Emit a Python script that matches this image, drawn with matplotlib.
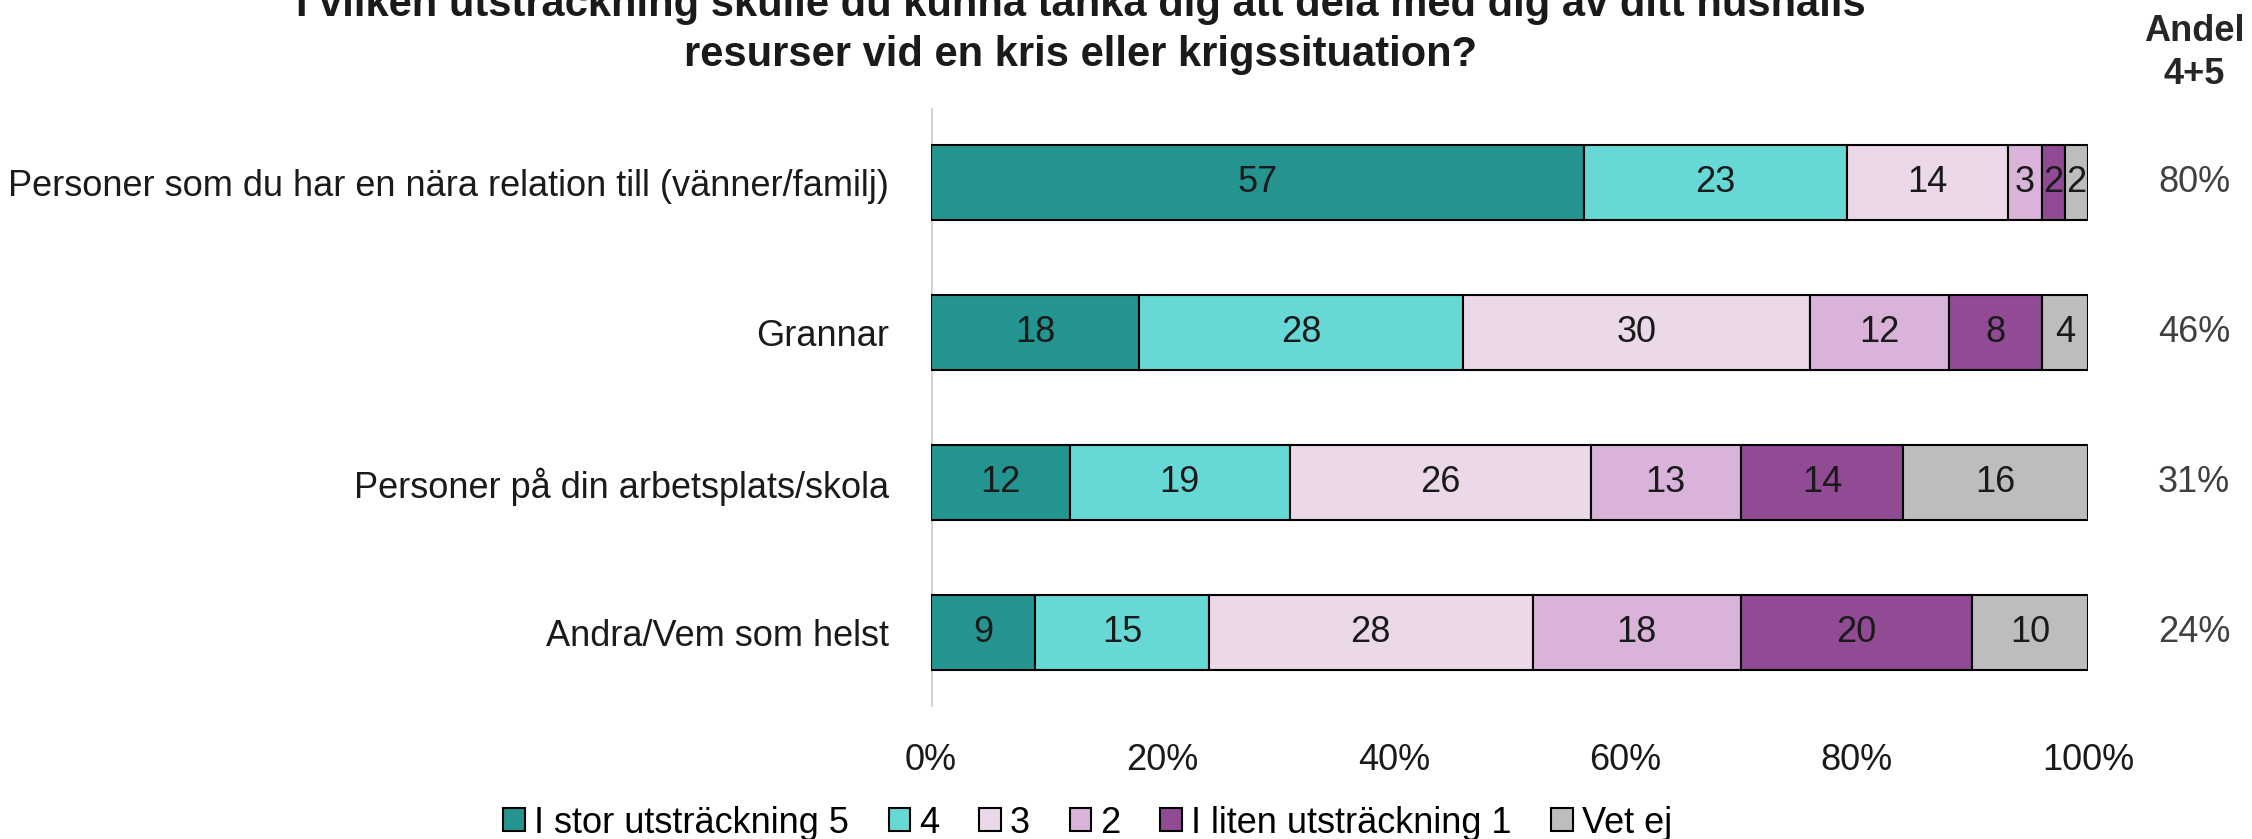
import numpy as np
import matplotlib.pyplot as plt
from matplotlib.patches import Patch

# -------- DATA --------
categories = [
    "Personer som du har en nära relation till (vänner/familj)",
    "Grannar",
    "Personer på din arbetsplats/skola",
    "Andra/Vem som helst",
]
series_names = ["I stor utsträckning 5", "4", "3", "2", "I liten utsträckning 1", "Vet ej"]
stor_5 = [57, 18, 12, 9]
val_4 = [23, 28, 19, 15]
val_3 = [14, 30, 26, 28]
val_2 = [3, 12, 13, 18]
liten_1 = [2, 8, 14, 20]
vet_ej = [2, 4, 16, 10]
xticks = [0, 20, 40, 60, 80, 100]

colors = ["#249490", "#66D9D6", "#EBD9EA", "#D9B3D9", "#914B94", "#BDBDBD"]

# -------- STYLE --------
plt.rcParams['font.family'] = ['Liberation Sans', 'DejaVu Sans']
FS = 26

series = np.array([stor_5, val_4, val_3, val_2, liten_1, vet_ej], dtype=float)
totals = series.sum(axis=0)
shares = series / totals * 100
andel = series[0] + series[1]

fig = plt.figure(figsize=(22.52, 8.39), dpi=100)
ax = fig.add_axes([0.4134, 0.1573, 0.5138, 0.714])

y = np.arange(len(categories))
left = np.zeros(len(categories))
for i, name in enumerate(series_names):
    ax.barh(y, shares[i], left=left, height=0.5, color=colors[i],
            edgecolor="black", linewidth=1.5, label=name, zorder=2)
    for j in range(len(categories)):
        ax.text(left[j] + shares[i][j] / 2, y[j], f"{int(series[i][j])}",
                ha="center", va="center", fontsize=FS, color="#1a1a1a", zorder=3)
    left += shares[i]

ax.set_ylim(len(categories) - 0.5, -0.5)
ax.set_xlim(0, 100)
ax.set_yticks(y)
ax.set_yticklabels(categories, fontsize=FS, color="#1a1a1a")
ax.set_xticks(xticks)
ax.set_xticklabels([f"{t}%" for t in xticks], fontsize=FS, color="#1a1a1a")
ax.tick_params(axis="x", length=0, pad=26)
ax.tick_params(axis="y", length=0, pad=30)
for s in ax.spines.values():
    s.set_visible(False)
ax.axvline(0, color="#D0D0D0", linewidth=2, zorder=1)

# -------- ANDEL 4+5 COLUMN --------
for j in range(len(categories)):
    ax.text(1.0 + 106 / 2252 / 0.5138, y[j], f"{int(andel[j])}%", transform=ax.get_yaxis_transform(),
            ha="center", va="center", fontsize=FS, color="#404040")
fig.text(0.9745, 0.962, "Andel", ha="center", va="center", fontsize=FS, fontweight="bold", color="#262626")
fig.text(0.9745, 0.911, "4+5", ha="center", va="center", fontsize=FS, fontweight="bold", color="#262626")

# -------- TITLE --------
fig.text(0.48, 0.997, "I vilken utsträckning skulle du kunna tänka dig att dela med dig av ditt hushålls",
         ha="center", va="center", fontsize=30, fontweight="bold", color="#1a1a1a")
fig.text(0.48, 0.934, "resurser vid en kris eller krigssituation?",
         ha="center", va="center", fontsize=30, fontweight="bold", color="#1a1a1a")

# -------- LEGEND --------
handles = [Patch(facecolor=c, edgecolor="black", linewidth=1.5) for c in colors]
fig.legend(handles, series_names, loc="center", bbox_to_anchor=(0.483, 0.019), ncol=6,
           frameon=False, fontsize=FS, handlelength=0.6, handleheight=0.6,
           handletextpad=0.25, columnspacing=1.1)

fig.savefig("out.png", dpi=100)
